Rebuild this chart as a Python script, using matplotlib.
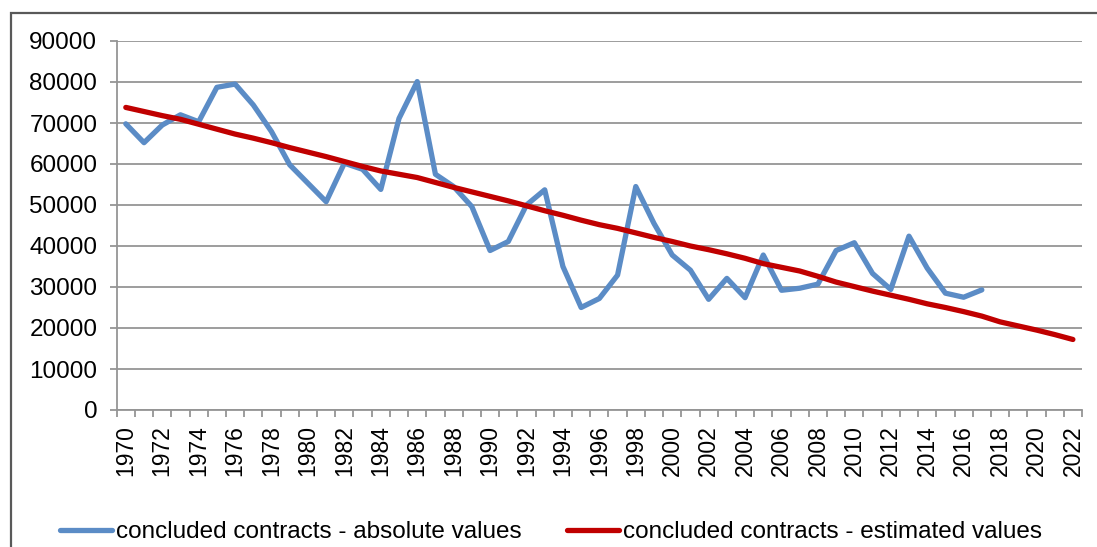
import matplotlib
matplotlib.use("Agg")
import matplotlib.pyplot as plt
from matplotlib.patches import Rectangle
from matplotlib.ticker import FixedLocator, NullFormatter
import numpy as np

plt.rcParams['font.family'] = ['Liberation Sans', 'DejaVu Sans']

years = list(range(1970, 2023))
absolute_values = [69800, 65200, 69500, 72000, 70300, 78700, 79500, 74400, 67900, 59800,
                   55300, 50800, 60200, 58700, 53800, 71100, 80100, 57500, 54500, 49600,
                   38900, 41100, 50000, 53700, 35000, 25000, 27200, 32900, 54500, 45500,
                   37800, 34100, 27000, 32100, 27400, 37800, 29200, 29700, 30700, 38900,
                   40800, 33300, 29400, 42400, 34600, 28500, 27500, 29300]
estimated_values = [73800, 72800, 71800, 70900, 69700, 68500, 67300, 66300, 65200, 64000,
                    62900, 61800, 60600, 59400, 58300, 57500, 56700, 55500, 54300, 53200,
                    52100, 51000, 49800, 48600, 47500, 46300, 45200, 44300, 43200, 42100,
                    41100, 40000, 39100, 38100, 37000, 35700, 34800, 33900, 32600, 31200,
                    30100, 29000, 28000, 27000, 25900, 25000, 24000, 22900, 21500, 20500,
                    19500, 18400, 17200]
yticks = list(range(0, 90001, 10000))
label_abs = "concluded contracts - absolute values"
label_est = "concluded contracts - estimated values"

W, H = 1097, 547
fig = plt.figure(figsize=(W / 100, H / 100), dpi=100)
ax = fig.add_axes([116.7 / W, 1 - 410 / H, (1082 - 116.7) / W, (410 - 41) / H])

# outer border (cut off at right and bottom)
fig.patches.append(Rectangle((11 / W, -0.1), 1.2, 1 - 13 / H + 0.1, transform=fig.transFigure,
                             fill=False, edgecolor='#595959', linewidth=1.6, zorder=0))

x = np.arange(len(years))
grid_c = '#959595'
l1, = ax.plot(x[:len(absolute_values)], absolute_values, color='#5B8CC6', lw=3.8,
              solid_joinstyle='round', solid_capstyle='round', zorder=3)
l2, = ax.plot(x, estimated_values, color='#C00000', lw=3.8,
              solid_joinstyle='round', solid_capstyle='round', zorder=4)

ax.set_xlim(-0.5, len(years) - 0.5)
ax.set_ylim(0, 90000)
ax.set_yticks(yticks)
ax.set_yticklabels([str(v) for v in yticks])
ax.yaxis.grid(True, color=grid_c, lw=1.3)
ax.set_axisbelow(True)

ax.xaxis.set_major_locator(FixedLocator(np.arange(-0.5, len(years), 1.0)))
ax.xaxis.set_major_formatter(NullFormatter())
label_pos = [i for i, y in enumerate(years) if y % 2 == 0]
ax.set_xticks(label_pos, minor=True)
ax.set_xticklabels([str(years[i]) for i in label_pos], minor=True, rotation=90)

for s in ['top', 'right']:
    ax.spines[s].set_visible(False)
for s in ['left', 'bottom']:
    ax.spines[s].set_color(grid_c)
    ax.spines[s].set_linewidth(1.3)

ax.tick_params(axis='y', which='major', length=5, width=1.3, color=grid_c, pad=9, labelsize=17.5)
ax.tick_params(axis='x', which='major', length=5, width=1.3, color=grid_c)
ax.tick_params(axis='x', which='minor', length=0, pad=11, labelsize=16.5)

fig.legend([l1, l2], [label_abs, label_est], loc='center left',
           bbox_to_anchor=(60 / W, 1 - 532 / H), ncol=2, frameon=False,
           borderpad=0, borderaxespad=0, handlelength=2.15, handletextpad=0.16,
           columnspacing=1.85, fontsize=17.5)

fig.savefig('out.png', dpi=100)
